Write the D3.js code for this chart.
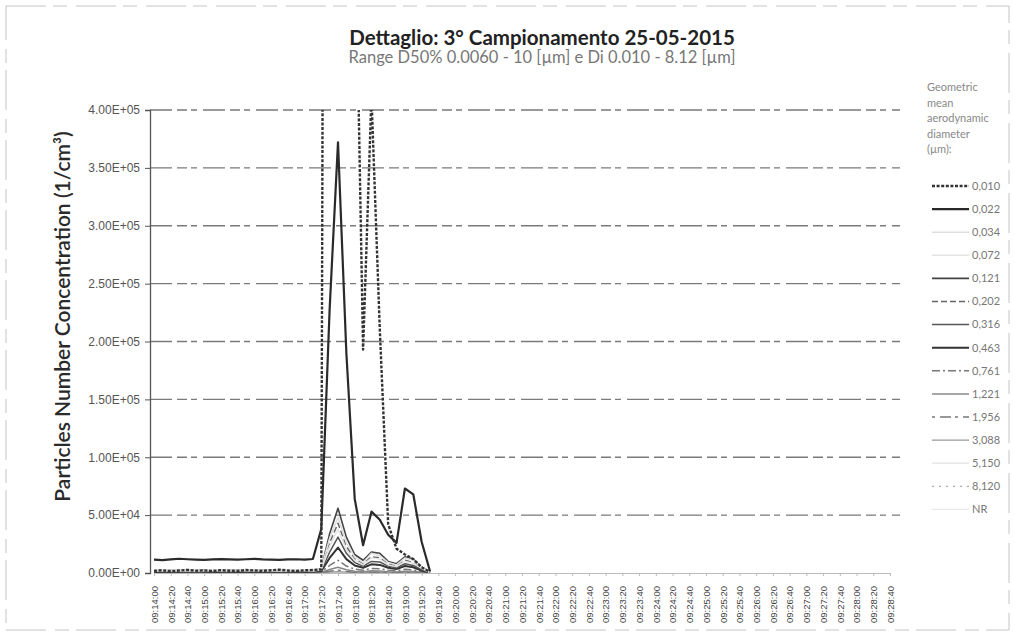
<!DOCTYPE html>
<html>
<head>
<meta charset="utf-8">
<script src="https://cdn.jsdelivr.net/npm/d3@7"></script>
<style>
  body { margin: 0; background: #fff; }
  svg { font-family: Lato, "Open Sans", sans-serif; }
</style>
</head>
<body>
<div id="chart"></div>
<script>
// frame size and plot area
const F_WIDTH = 1015;
const F_HEIGHT = 634;
const MARGINS = {left: 150, right: 115, top: 110, bottom: 61};

// sampling times (every 10 s) where the instrument gave data
const times = ["09:14:00","09:14:10","09:14:20","09:14:30","09:14:40","09:14:50",
  "09:15:00","09:15:10","09:15:20","09:15:30","09:15:40","09:15:50",
  "09:16:00","09:16:10","09:16:20","09:16:30","09:16:40","09:16:50",
  "09:17:00","09:17:10","09:17:20","09:17:30","09:17:40","09:17:50",
  "09:18:00","09:18:10","09:18:20","09:18:30","09:18:40","09:18:50",
  "09:19:00","09:19:10","09:19:20","09:19:30"];

// category labels on the x axis
const tickLabels = ["09:14:00","09:14:20","09:14:40","09:15:00","09:15:20","09:15:40",
  "09:16:00","09:16:20","09:16:40","09:17:00","09:17:20","09:17:40",
  "09:18:00","09:18:20","09:18:40","09:19:00","09:19:20","09:19:40",
  "09:20:00","09:20:20","09:20:40","09:21:00","09:21:20","09:21:40",
  "09:22:00","09:22:20","09:22:40","09:23:00","09:23:20","09:23:40",
  "09:24:00","09:24:20","09:24:40","09:25:00","09:25:20","09:25:40",
  "09:26:00","09:26:20","09:26:40","09:27:00","09:27:20","09:27:40",
  "09:28:00","09:28:20","09:28:40"];

const yTickValues = [0, 50000, 100000, 150000, 200000, 250000, 300000, 350000, 400000];

// legend / series names (geometric mean diameter, um)
const diameters = ["0,010","0,022","0,034","0,072","0,121","0,202","0,316","0,463",
  "0,761","1,221","1,956","3,088","5,150","8,120","NR"];

// concentrations (1/cm3), one value per time above
const s0010 = [1800,2400,1500,2100,2700,1900,2300,1600,2500,2000,1700,2600,2200,1800,2400,2900,2100,1700,2300,2600,
  3100,2600000,3400000,1500000,590000,193000,412000,210000,42000,21000,16000,12000,5000,900];
const s0022 = [11500,11200,11800,12300,11900,11600,11400,11800,12000,11700,11500,11900,12200,11800,11600,11400,11700,11900,11600,12100,
  38000,228000,372000,190000,64000,24000,53000,46000,33000,26000,73000,68000,27000,1500];
const s0034 = [2500,2700,2300,2600,2800,2400,2500,2900,2600,2300,2500,2700,2800,2400,2600,2500,2300,2700,2600,2500,
  4000,30000,48000,26000,14000,9000,17000,15000,9000,7000,13000,11000,5000,500];
const s0072 = [1800,1900,1700,2000,1800,1600,1900,2100,1800,1700,1900,2000,1800,1700,1900,1800,1600,2000,1900,1800,
  3000,23000,38000,20000,11000,7000,13000,12000,7000,5500,10000,8500,4000,400];
const s0121 = [2100,1700,2400,1900,2300,1800,2600,2000,1600,2200,2500,1900,2100,2400,1800,2300,2000,1700,2200,2400,
  3500,34000,56000,31000,16000,11000,18000,17000,10000,8000,14000,12000,5000,600];
const s0202 = [1500,1800,1300,1600,1900,1400,1700,1200,1600,1800,1500,1300,1700,1600,1400,1900,1500,1300,1600,1700,
  2800,26000,43000,23000,12000,8000,14000,13000,8000,6000,11000,9000,4000,400];
const s0316 = [1200,1000,1400,1100,1300,900,1200,1500,1100,1000,1300,1200,1400,1000,1200,1100,1300,1000,1200,1300,
  2200,18000,31000,17000,9000,6000,10000,9500,6000,4500,8000,6500,3000,300];
const s0463 = [900,1100,800,1000,700,900,1200,800,1000,900,700,1100,900,800,1000,900,1100,800,900,1000,
  1600,13000,22000,12000,6500,4500,7500,7000,4500,3500,6000,5000,2200,200];
const s0761 = [600,500,700,600,800,500,600,700,500,600,800,600,500,700,600,500,700,600,800,600,
  1000,6500,11000,6000,3300,2400,4000,3700,2400,1900,3200,2600,1200,100];
const s1221 = [400,300,500,400,300,500,400,300,400,500,300,400,500,400,300,400,500,300,400,400,
  700,3000,5000,2800,1600,1100,1900,1700,1100,900,1500,1200,600,60];
const s1956 = [250,200,300,250,200,250,300,200,250,300,250,200,250,300,200,250,250,200,300,250,
  400,1500,2500,1400,800,550,950,850,550,450,750,600,300,30];
const s3088 = [150,120,180,140,160,130,150,170,140,150,130,160,150,140,170,150,130,160,150,140,
  220,700,1200,700,400,280,450,420,280,220,380,300,150,20];
const s5150 = [80,60,90,70,80,60,80,90,70,80,60,80,90,70,80,60,80,70,90,80,
  120,300,500,300,180,120,200,180,120,100,160,130,70,10];
const s8120 = [40,30,50,40,30,40,50,30,40,40,30,50,40,30,40,50,30,40,40,30,
  60,120,200,120,80,60,90,80,60,50,70,60,30,5];
const sNR = [0,0,0,0,0,0,0,0,0,0,0,0,0,0,0,0,0,0,0,0,
  0,0,0,0,0,0,0,0,0,0,0,0,0,0];

const seriesValues = [s0010, s0022, s0034, s0072, s0121, s0202, s0316, s0463,
  s0761, s1221, s1956, s3088, s5150, s8120, sNR];

// grey-scale look of the scanned print
const STYLES = {
  "0,010": {color: "#333", width: 2.4, dash: "3,1.6"},
  "0,022": {color: "#2a2a2a", width: 2.2, dash: null},
  "0,034": {color: "#dedede", width: 1.5, dash: null},
  "0,072": {color: "#e4e4e4", width: 1.5, dash: null},
  "0,121": {color: "#444", width: 1.6, dash: null},
  "0,202": {color: "#666", width: 1.5, dash: "6,3"},
  "0,316": {color: "#555", width: 1.5, dash: null},
  "0,463": {color: "#333", width: 2, dash: null},
  "0,761": {color: "#777", width: 1.5, dash: "8,3,2,3"},
  "1,221": {color: "#888", width: 1.5, dash: null},
  "1,956": {color: "#777", width: 1.4, dash: "3,5,11,4"},
  "3,088": {color: "#999", width: 1.2, dash: null},
  "5,150": {color: "#e2e2e2", width: 1.2, dash: null},
  "8,120": {color: "#aaa", width: 1.2, dash: "2,5"},
  "NR": {color: "#e8e8e8", width: 1.2, dash: null}
};

const toSec = t => {
  const p = t.split(":").map(Number);
  return (p[0] - 9) * 3600 + (p[1] - 14) * 60 + p[2];
};

const expFmt = v => {
  const [m, e] = v.toExponential(2).split("e");
  return m + "E" + (+e < 0 ? "-" : "+") + String(Math.abs(+e)).padStart(2, "0");
};

const svg = d3.select("#chart")
  .append("svg")
    .attr("width", F_WIDTH)
    .attr("height", F_HEIGHT);

// chart area border (faint, as on the scan)
svg.append("rect")
  .attr("x", 6).attr("y", 6)
  .attr("width", F_WIDTH - 12).attr("height", F_HEIGHT - 10)
  .attr("fill", "none")
  .attr("stroke", "#c4c4c4")
  .attr("stroke-dasharray", "40,7,14,9");

const X_SCALE = d3.scaleLinear()
  .domain([0, toSec(tickLabels[tickLabels.length - 1])])
  .range([MARGINS.left + 4, F_WIDTH - MARGINS.right - 10]);

const Y_SCALE = d3.scaleLinear()
  .domain([0, 400000])
  .range([F_HEIGHT - MARGINS.bottom, MARGINS.top]);

// horizontal gridlines
svg.append("g")
  .selectAll("line")
  .data(yTickValues.slice(1))
  .join("line")
    .attr("x1", MARGINS.left)
    .attr("x2", F_WIDTH - MARGINS.right)
    .attr("y1", d => Y_SCALE(d))
    .attr("y2", d => Y_SCALE(d))
    .attr("stroke", "#7a7a7a")
    .attr("stroke-width", 1.3)
    .attr("stroke-dasharray", "22,5,10,4,6,6");

// y axis
const yAxis = svg.append("g")
  .attr("transform", "translate(" + MARGINS.left + ",0)")
  .call(d3.axisLeft(Y_SCALE).tickValues(yTickValues).tickFormat(expFmt).tickSize(5).tickPadding(5));
yAxis.select(".domain").attr("stroke", "#555").attr("stroke-width", 1.3);
yAxis.selectAll(".tick line").attr("stroke", "#555");
yAxis.selectAll("text").attr("fill", "#555").style("font-size", "12px");

// x axis
const xAxis = svg.append("g")
  .attr("transform", "translate(0," + (F_HEIGHT - MARGINS.bottom) + ")")
  .call(d3.axisBottom(X_SCALE)
    .tickValues(tickLabels.map(toSec))
    .tickFormat((d, i) => tickLabels[i])
    .tickSize(3));
xAxis.select(".domain").attr("stroke", "#bbb");
xAxis.selectAll(".tick line").attr("stroke", "#bbb");
xAxis.selectAll("text")
  .attr("transform", "rotate(-90)")
  .attr("text-anchor", "end")
  .attr("x", -13)
  .attr("y", 0)
  .attr("dy", "0.35em")
  .attr("fill", "#444")
  .style("font-size", "9.5px");

// clip to the plot area (values above 4E+05 leave the chart)
svg.append("clipPath")
  .attr("id", "plotClip")
  .append("rect")
    .attr("x", MARGINS.left)
    .attr("y", MARGINS.top)
    .attr("width", F_WIDTH - MARGINS.left - MARGINS.right)
    .attr("height", F_HEIGHT - MARGINS.top - MARGINS.bottom);

const line = d3.line()
  .x((d, i) => X_SCALE(toSec(times[i])))
  .y(d => Y_SCALE(d));

// draw lighter series first, the two big ones last
const drawOrder = d3.range(diameters.length).reverse();
svg.append("g")
  .attr("clip-path", "url(#plotClip)")
  .selectAll("path")
  .data(drawOrder)
  .join("path")
    .attr("d", i => line(seriesValues[i]))
    .attr("fill", "none")
    .attr("stroke", i => STYLES[diameters[i]].color)
    .attr("stroke-width", i => STYLES[diameters[i]].width)
    .attr("stroke-dasharray", i => STYLES[diameters[i]].dash)
    .attr("stroke-linejoin", "round");

// titles
svg.append("text")
  .attr("x", 542).attr("y", 45)
  .attr("text-anchor", "middle")
  .attr("fill", "#222")
  .style("font-size", "20.5px")
  .style("font-weight", "bold")
  .text("Dettaglio: 3° Campionamento  25-05-2015");

svg.append("text")
  .attr("x", 542).attr("y", 63)
  .attr("text-anchor", "middle")
  .attr("fill", "#777")
  .style("font-size", "16.5px")
  .text("Range D50% 0.0060 - 10 [µm] e Di 0.010 - 8.12 [µm]");

svg.append("text")
  .attr("transform", "translate(63," + ((MARGINS.top + F_HEIGHT - MARGINS.bottom) / 2 - 25) + ") rotate(-90)")
  .attr("text-anchor", "middle")
  .attr("dy", "0.35em")
  .attr("fill", "#2a2a2a")
  .style("font-size", "21px")
  .style("font-weight", "600")
  .text("Particles Number  Concentration (1/cm³)");

// legend
const legend = svg.append("g");
const header = ["Geometric", "mean", "aerodynamic", "diameter", "(µm):"];
legend.selectAll("text.head")
  .data(header)
  .join("text")
    .attr("class", "head")
    .attr("x", 927)
    .attr("y", (d, i) => 91 + i * 15.5)
    .attr("fill", "#888")
    .style("font-size", "11px")
    .text(d => d);

const items = legend.selectAll("g.item")
  .data(diameters)
  .join("g")
    .attr("class", "item")
    .attr("transform", (d, i) => "translate(0," + (186 + i * 23.1) + ")");

items.append("line")
  .attr("x1", 932).attr("x2", 969)
  .attr("stroke", d => STYLES[d].color)
  .attr("stroke-width", d => STYLES[d].width)
  .attr("stroke-dasharray", d => STYLES[d].dash);

items.append("text")
  .attr("x", 972)
  .attr("dy", "0.35em")
  .attr("fill", "#777")
  .style("font-size", "11px")
  .text(d => d);
</script>
</body>
</html>
